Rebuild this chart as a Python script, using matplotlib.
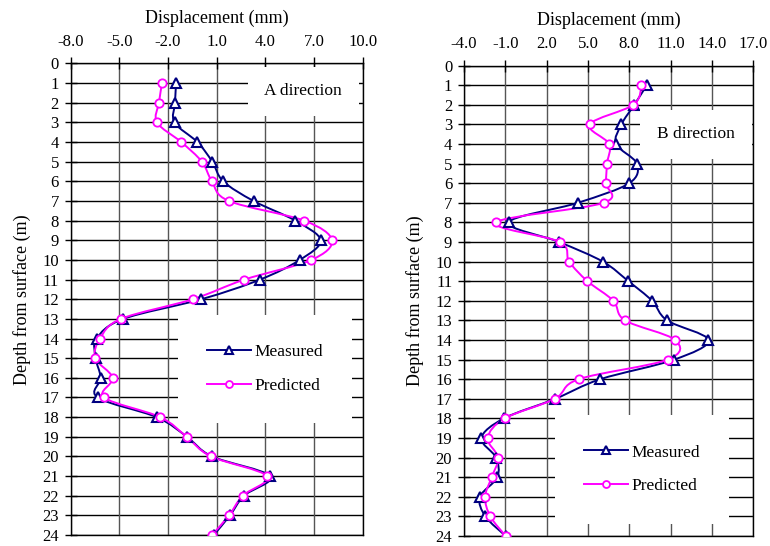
import numpy as np
import matplotlib
matplotlib.use("Agg")
import matplotlib.pyplot as plt
from matplotlib.path import Path
from matplotlib.patches import PathPatch

plt.rcParams['font.family'] = ['Liberation Serif', 'DejaVu Serif']

depth = list(range(1, 25))

# A direction displacements (mm)
a_measured = [-1.5, -1.57, -1.6, -0.19, 0.73, 1.41, 3.28, 5.85, 7.41, 6.12, 3.67, 0.05,
              -4.76, -6.4, -6.46, -6.15, -6.34, -2.7, -0.83, 0.71, 4.29, 2.68, 1.82, 0.82]
a_predicted = [-2.37, -2.56, -2.68, -1.18, 0.09, 0.71, 1.76, 6.4, 8.11, 6.83, 2.7, -0.48,
               -4.9, -6.19, -6.48, -5.41, -5.93, -2.48, -0.85, 0.65, 4.1, 2.6, 1.76, 0.71]

# B direction displacements (mm)
b_measured = [9.27, 8.37, 7.43, 7.04, 8.54, 8.0, 4.28, -0.76, 2.9, 6.07, 7.93, 9.65,
              10.74, 13.74, 11.27, 5.9, 2.63, -1.1, -2.74, -1.68, -1.58, -2.84, -2.45, -0.97]
b_predicted = [8.88, 8.3, 5.13, 6.53, 6.38, 6.29, 6.15, -1.68, 2.95, 3.63, 4.96, 6.84,
               7.69, 11.32, 10.79, 4.33, 2.59, -1.04, -2.28, -1.53, -1.99, -2.47, -2.09, -0.97]

a_xticks = [-8, -5, -2, 1, 4, 7, 10]
b_xticks = [-4, -1, 2, 5, 8, 11, 14, 17]
depth_ticks = list(range(0, 25))

NAVY = '#000080'
MAGENTA = '#FF00FF'


def smooth_line(ax, xs, ys, color):
    # Catmull-Rom style bezier through the points, like a spreadsheet "smoothed line"
    pts = np.column_stack([xs, ys]).astype(float)
    verts = [pts[0]]
    codes = [Path.MOVETO]
    n = len(pts)
    for i in range(n - 1):
        p0 = pts[i - 1] if i > 0 else pts[i]
        p1 = pts[i]
        p2 = pts[i + 1]
        p3 = pts[i + 2] if i + 2 < n else pts[i + 1]
        c1 = p1 + (p2 - p0) / 6.0
        c2 = p2 - (p3 - p1) / 6.0
        verts += [c1, c2, p2]
        codes += [Path.CURVE4] * 3
    ax.add_patch(PathPatch(Path(verts, codes), facecolor='none',
                           edgecolor=color, lw=1.4, zorder=3))


def draw_panel(ax, measured, predicted, xticks, label, label_pos, legend_pos):
    for t in depth_ticks:
        ax.axhline(t, color='black', lw=1.0, zorder=1)
    for t in xticks:
        ax.axvline(t, color='#555555', lw=1.0, zorder=1)

    smooth_line(ax, measured, depth, NAVY)
    smooth_line(ax, predicted, depth, MAGENTA)
    ax.plot(measured, depth, ls='none', marker='^', ms=7, mfc='white',
            mec=NAVY, mew=1.5, zorder=4)
    ax.plot(predicted, depth, ls='none', marker='o', ms=6, mfc='white',
            mec=MAGENTA, mew=1.3, zorder=5)

    ax.set_xlim(xticks[0], xticks[-1])
    ax.set_ylim(24, 0)
    ax.set_xticks(xticks)
    ax.set_xticklabels([f'{t:.1f}' for t in xticks])
    ax.set_yticks(depth_ticks)
    ax.xaxis.set_ticks_position('top')
    ax.xaxis.set_label_position('top')
    ax.tick_params(axis='both', direction='inout', length=9, width=1.0,
                   labelsize=12, colors='black')
    ax.tick_params(axis='x', pad=5)
    ax.tick_params(axis='y', pad=4)
    ax.set_xlabel('Displacement (mm)', fontsize=13, labelpad=8)
    ax.set_ylabel('Depth from surface (m)', fontsize=13, labelpad=8)
    for s in ax.spines.values():
        s.set_color('black')
        s.set_linewidth(1.0)

    ax.text(label_pos[0], label_pos[1], label, transform=ax.transAxes,
            ha='center', va='center', fontsize=12.5, zorder=6,
            bbox=dict(facecolor='white', edgecolor='none', pad=12))

    h1, = ax.plot([], [], color=NAVY, lw=1.4, marker='^', ms=6, mfc='white',
                  mec=NAVY, mew=1.5)
    h2, = ax.plot([], [], color=MAGENTA, lw=1.4, marker='o', ms=5, mfc='white',
                  mec=MAGENTA, mew=1.3)
    leg = ax.legend([h1, h2], ['Measured', 'Predicted'], loc='center',
                    bbox_to_anchor=legend_pos, fontsize=12.5, frameon=True,
                    fancybox=False, framealpha=1, edgecolor='none',
                    facecolor='white', handlelength=2.5, handletextpad=0.2,
                    labelspacing=1.0, borderpad=0.9, borderaxespad=0)
    leg.get_frame().set_boxstyle('square', pad=0.8)
    leg.set_zorder(6)


fig = plt.figure(figsize=(7.7, 5.46), dpi=100)
ax1 = fig.add_axes([0.0918, 0.0201, 0.3792, 0.8636])
ax2 = fig.add_axes([0.6026, 0.0183, 0.3757, 0.8617])

draw_panel(ax1, a_measured, a_predicted, a_xticks, 'A direction',
           (0.796, 0.941), (0.665, 0.352))
draw_panel(ax2, b_measured, b_predicted, b_xticks, 'B direction',
           (0.802, 0.854), (0.615, 0.142))

fig.savefig('out.png', dpi=100)
